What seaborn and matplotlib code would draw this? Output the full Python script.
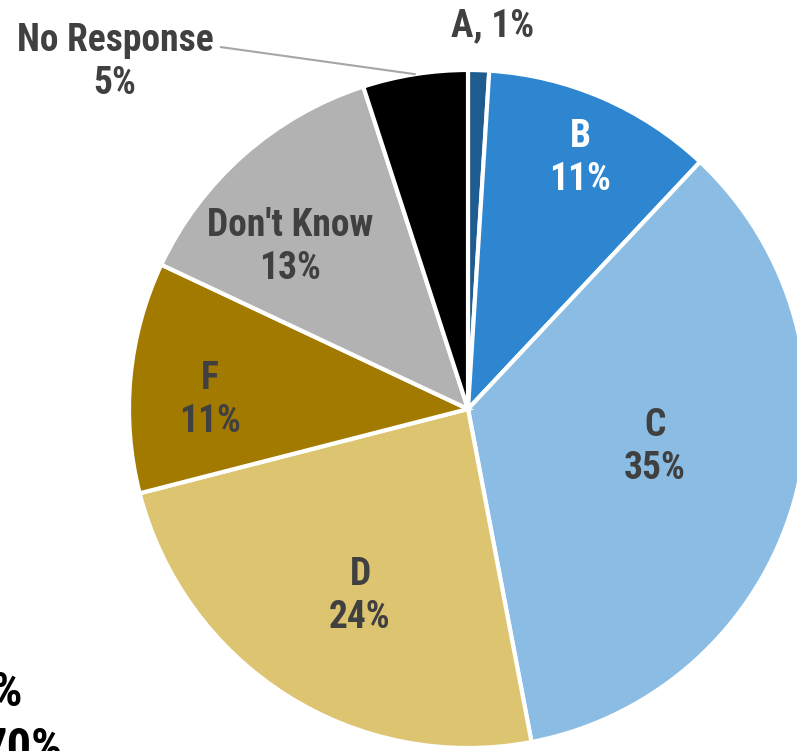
import numpy as np
import matplotlib.pyplot as plt
import seaborn as sns

# data
labels = ["A", "B", "C", "D", "F", "Don't Know", "No Response"]
values = [1, 11, 35, 24, 11, 13, 5]
colors = ["#1F5C8F", "#2E86D0", "#8BBDE4", "#DCC470", "#A37A00", "#B2B2B2", "#000000"]
text_colors = ["#404040", "white", "#404040", "#404040", "#404040", "#404040", "#404040"]
# label placement inside wedges: (fraction of radius, angle offset in degrees)
label_pos = [None, (0.81, -0.7), (0.563, 4.7), (0.637, 2.4), (0.761, 3.4), (0.71, 6.3), None]

sns.set_theme(style="white")
plt.rcParams['font.family'] = ['Roboto Condensed', 'Liberation Sans', 'DejaVu Sans']

W, H = 797, 751
fig = plt.figure(figsize=(W / 100, H / 100), dpi=100)
ax = fig.add_axes([0, 0, 1, 1])

cx, cy, R = 468, H - 409, 339
wedges, _ = ax.pie(values, colors=colors, startangle=90, counterclock=False,
                   center=(cx, cy), radius=R,
                   wedgeprops=dict(edgecolor="white", linewidth=3))
ax.set_xlim(0, W)
ax.set_ylim(0, H)
ax.set_aspect("equal")
ax.axis("off")

fs = 27
for i, w in enumerate(wedges):
    if label_pos[i] is None:
        continue
    r, off = label_pos[i]
    mid = np.deg2rad((w.theta1 + w.theta2) / 2 + off)
    ax.text(cx + r * R * np.cos(mid), cy + r * R * np.sin(mid),
            f"{labels[i]}\n{values[i]}%", ha="center", va="center",
            fontsize=fs, fontweight="bold", color=text_colors[i], linespacing=1.2)

# A label outside the pie
wa = wedges[0]
ma = np.deg2rad((wa.theta1 + wa.theta2) / 2)
ax.text(cx + 25, cy + 1.13 * R * np.sin(ma), f"{labels[0]}, {values[0]}%",
        ha="center", va="center", fontsize=fs, fontweight="bold", color="#404040")

# No Response label with leader line
wn = wedges[6]
mn = np.deg2rad((wn.theta1 + wn.theta2) / 2)
ax.annotate(f"{labels[6]}\n{values[6]}%",
            xy=(cx + R * np.cos(mn), cy + R * np.sin(mn)),
            xytext=(115, H - 62), ha="center", va="center",
            fontsize=fs, fontweight="bold", color="#404040", linespacing=1.2,
            arrowprops=dict(arrowstyle="-", color="#A6A6A6", lw=1.5,
                            relpos=(1, 0.7), shrinkA=3, shrinkB=0))

# cut-off text fragments at bottom left
fig.text(23 / W, 1 - 693 / H, "0%", ha="right", va="center",
         fontsize=35, fontweight="bold", color="black")
fig.text(63 / W, 1 - 749 / H, "70%", ha="right", va="center",
         fontsize=35, fontweight="bold", color="black")

fig.savefig("out.png", dpi=100)
